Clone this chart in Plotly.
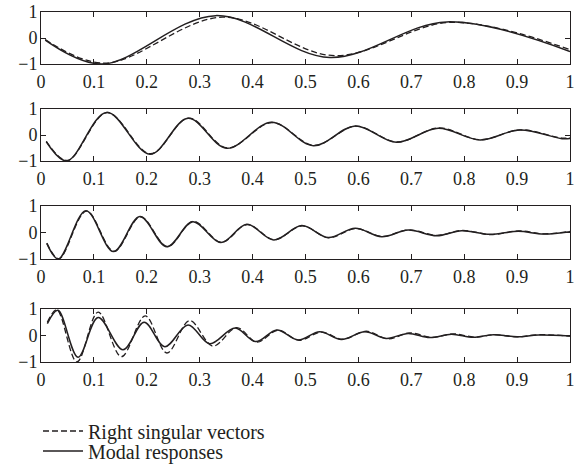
import plotly.graph_objects as go

FONT = "Liberation Serif"
INK = "#231f20"

# ---- data (peaks/troughs, start and end points) ----
# Panel 1
x1_modal = [0.008, 0.115, 0.330, 0.546, 0.767, 1.0]
y1_modal = [-0.08, -1.00, 0.86, -0.75, 0.62, -0.52]
x1_svd = [0.008, 0.120, 0.343, 0.555, 0.775, 1.0]
y1_svd = [-0.06, -0.97, 0.80, -0.68, 0.60, -0.45]

# Panel 2
x2_modal = [0.010, 0.049, 0.124, 0.206, 0.278, 0.351, 0.436, 0.515, 0.594, 0.672,
            0.751, 0.830, 0.905, 0.985, 1.0]
y2_modal = [-0.26, -1.00, 0.87, -0.74, 0.64, -0.51, 0.49, -0.41, 0.35, -0.28,
            0.26, -0.19, 0.19, -0.14, -0.13]
x2_svd = [0.010, 0.050, 0.125, 0.207, 0.279, 0.352, 0.437, 0.516, 0.595, 0.673,
          0.752, 0.831, 0.906, 0.985, 1.0]
y2_svd = [-0.24, -0.98, 0.86, -0.72, 0.65, -0.50, 0.48, -0.40, 0.34, -0.27,
          0.27, -0.18, 0.20, -0.12, -0.10]

# Panel 3
x3_modal = [0.011, 0.033, 0.085, 0.137, 0.187, 0.238, 0.287, 0.340, 0.389, 0.440,
            0.493, 0.543, 0.594, 0.644, 0.694, 0.748, 0.795, 0.849, 0.902, 0.950, 1.0]
y3_modal = [-0.41, -1.00, 0.82, -0.72, 0.60, -0.54, 0.41, -0.38, 0.31, -0.28,
            0.26, -0.19, 0.16, -0.16, 0.09, -0.12, 0.07, -0.07, 0.05, -0.06, 0.03]
x3_svd = [0.011, 0.034, 0.086, 0.138, 0.188, 0.239, 0.288, 0.341, 0.390, 0.441,
          0.494, 0.544, 0.595, 0.645, 0.695, 0.749, 0.796, 0.850, 0.903, 0.951, 1.0]
y3_svd = [-0.40, -0.99, 0.81, -0.71, 0.59, -0.53, 0.42, -0.37, 0.30, -0.27,
          0.25, -0.20, 0.15, -0.15, 0.10, -0.11, 0.08, -0.08, 0.06, -0.05, 0.04]

# Panel 4
x4_modal = [0.012, 0.032, 0.070, 0.108, 0.155, 0.195, 0.234, 0.278, 0.319, 0.367,
            0.406, 0.446, 0.486, 0.527, 0.568, 0.612, 0.653, 0.694, 0.735, 0.776,
            0.817, 0.855, 0.900, 0.940, 1.0]
y4_modal = [0.45, 0.95, -0.82, 0.68, -0.54, 0.50, -0.42, 0.40, -0.31, 0.28,
            -0.23, 0.21, -0.17, 0.14, -0.15, 0.14, -0.11, 0.08, -0.08, 0.05,
            -0.07, 0.03, -0.05, 0.02, -0.02]
x4_svd = [0.012, 0.030, 0.068, 0.108, 0.152, 0.197, 0.238, 0.281, 0.325, 0.370,
          0.408, 0.448, 0.488, 0.530, 0.570, 0.615, 0.656, 0.697, 0.738, 0.780,
          0.820, 0.858, 0.900, 0.940, 1.0]
y4_svd = [0.50, 0.97, -1.00, 0.88, -0.80, 0.74, -0.66, 0.56, -0.40, 0.30,
          -0.25, 0.20, -0.18, 0.13, -0.14, 0.16, -0.13, 0.10, -0.07, 0.06,
          -0.06, 0.03, -0.05, 0.03, -0.02]

x_ticks = [0, 0.1, 0.2, 0.3, 0.4, 0.5, 0.6, 0.7, 0.8, 0.9, 1]
x_ticktext = ["0", "0.1", "0.2", "0.3", "0.4", "0.5", "0.6", "0.7", "0.8", "0.9", "1"]
y_ticks = [-1, 0, 1]
y_ticktext = ["\u22121", "0", "1"]

series_svd_name = "Right singular vectors"
series_modal_name = "Modal responses"

panels = [
    (x1_svd, y1_svd, x1_modal, y1_modal),
    (x2_svd, y2_svd, x2_modal, y2_modal),
    (x3_svd, y3_svd, x3_modal, y3_modal),
    (x4_svd, y4_svd, x4_modal, y4_modal),
]

W, H = 575, 475
x_dom = [41 / W, 570 / W]
pix_boxes = [(12, 64), (109, 161), (206, 259), (309, 362)]
y_doms = [[1 - b / H, 1 - t / H] for (t, b) in pix_boxes]

fig = go.Figure()
layout = {}
for i, (xs, ys, xm, ym) in enumerate(panels):
    sfx = "" if i == 0 else str(i + 1)
    fig.add_trace(go.Scatter(
        x=xs, y=ys, mode="lines", name=series_svd_name, showlegend=(i == 0),
        legend="legend",
        line=dict(color=INK, width=1.3, dash="6px,3px", shape="spline", smoothing=1),
        xaxis="x" + sfx, yaxis="y" + sfx, cliponaxis=True))
    fig.add_trace(go.Scatter(
        x=xm, y=ym, mode="lines", name=series_modal_name, showlegend=(i == 0),
        legend="legend2",
        line=dict(color=INK, width=1.5, shape="spline", smoothing=1),
        xaxis="x" + sfx, yaxis="y" + sfx, cliponaxis=True))
    layout["xaxis" + sfx] = dict(
        domain=x_dom, range=[0, 1], anchor="y" + sfx, automargin=False,
        tickmode="array", tickvals=x_ticks, ticktext=x_ticktext,
        ticks="inside", ticklen=5, tickwidth=1, tickcolor=INK,
        showline=True, linecolor=INK, linewidth=1, mirror="ticks",
        showgrid=False, zeroline=False, ticklabelstandoff=1,
        tickfont=dict(family=FONT, size=18, color=INK))
    layout["yaxis" + sfx] = dict(
        domain=y_doms[i], range=[-1, 1], anchor="x" + sfx, automargin=False,
        tickmode="array", tickvals=y_ticks, ticktext=y_ticktext,
        ticks="inside", ticklen=5, tickwidth=1, tickcolor=INK,
        showline=True, linecolor=INK, linewidth=1, mirror="ticks",
        showgrid=False, zeroline=False, ticklabelstandoff=-1,
        tickfont=dict(family=FONT, size=18, color=INK))

leg_common = dict(xanchor="left", yanchor="middle", bgcolor="rgba(0,0,0,0)",
                  borderwidth=0, itemwidth=40,
                  font=dict(family=FONT, size=20, color=INK))
fig.update_layout(**layout)
fig.update_layout(
    template="none",
    width=W, height=H,
    margin=dict(l=0, r=0, t=0, b=0, autoexpand=False),
    paper_bgcolor="white", plot_bgcolor="white",
    font=dict(family=FONT, size=18, color=INK),
    legend=dict(x=38 / W, y=1 - 431 / H, **leg_common),
    legend2=dict(x=38 / W, y=1 - 451 / H, **leg_common),
)

fig.write_html("out.html")
